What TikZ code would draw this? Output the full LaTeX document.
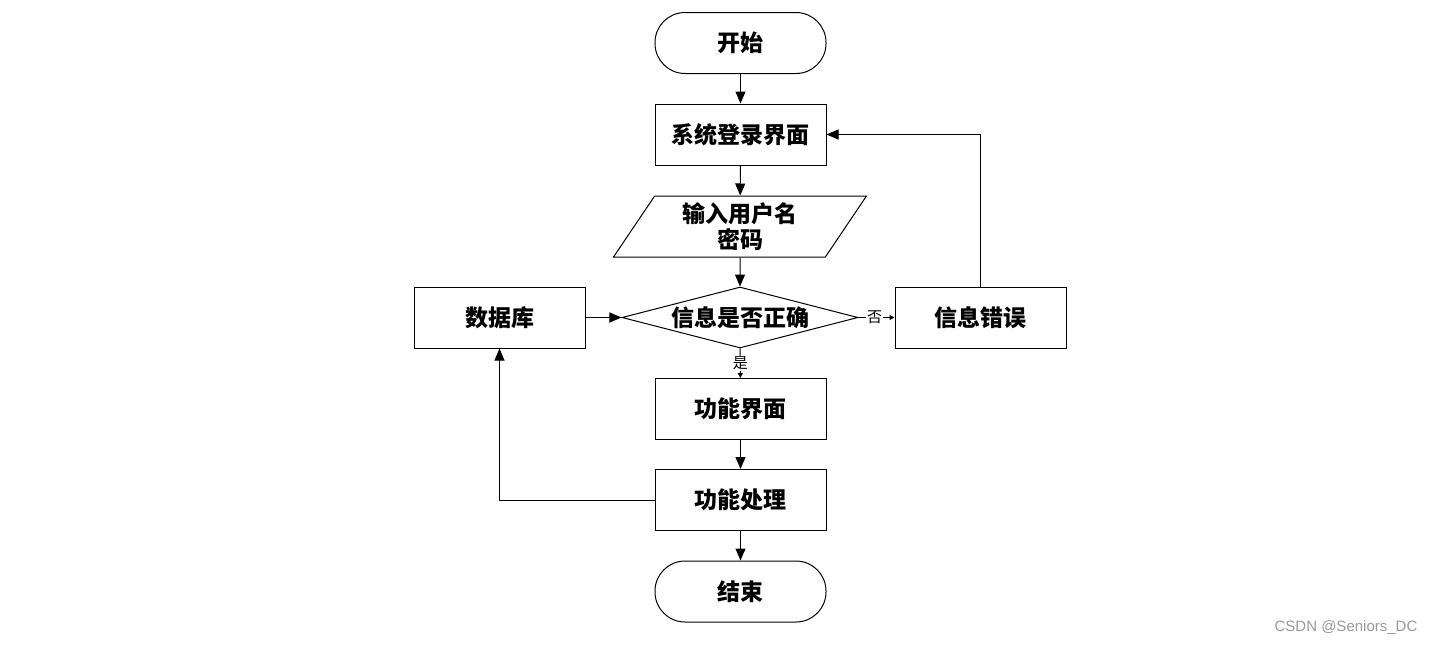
\documentclass[tikz,border=0pt]{standalone}
\usepackage{fontspec}
\newfontfamily\cjk{Noto Sans CJK SC}
\newfontfamily\wmfont{Liberation Sans}
\usepackage{tikz}
\usetikzlibrary{arrows.meta,shapes.geometric}

\begin{document}
\begin{tikzpicture}[x=0.5pt, y=-0.5pt, line width=0.5pt,
    every node/.style={font=\cjk\bfseries\fontsize{11.5pt}{13pt}\selectfont},
    box/.style={draw, minimum width=85.5pt, minimum height=30.5pt, inner sep=0pt},
    term/.style={box, rounded corners=15pt},
    io/.style={draw, trapezium, trapezium left angle=60, trapezium right angle=120,
        trapezium stretches=true, minimum width=127pt, minimum height=30.5pt,
        inner sep=0pt, align=center},
    decide/.style={draw, diamond, shape aspect=3.9, minimum width=118pt,
        minimum height=30.5pt, inner sep=0pt},
    tag/.style={font=\cjk\fontsize{7.5pt}{8pt}\selectfont, fill=white, inner sep=0.5pt},
    arr/.style={-{Triangle[length=6pt, width=5pt]}},
    tiny/.style={-{Triangle[length=2.5pt, width=2.5pt]}}]
    \useasboundingbox (0,0) rectangle (1432,645);

    % Main column
    \node[term] (start) at (740.5,43) {开始};
    \node[box] (login) at (740.5,134.5) {系统登录界面};
    \node[io] (input) at (740,226.5) {输入用户名\\密码};
    \node[decide] (check) at (740,317.5) {信息是否正确};
    \node[box] (menu) at (740.5,409) {功能界面};
    \node[box] (proc) at (740.5,500) {功能处理};
    \node[term] (stop) at (740.5,591.5) {结束};

    % Side boxes
    \node[box] (db) at (499.5,317.5) {数据库};
    \node[box] (err) at (980.5,317.5) {信息错误};

    % Arrows
    \draw[arr] (start) -- (login);
    \draw[arr] (login) -- (input);
    \draw[arr] (input) -- (check);
    \draw[tiny] (check) -- node[tag] {是} (menu);
    \draw[arr] (menu) -- (proc);
    \draw[arr] (proc) -- (stop);
    \draw[arr] (db) -- (check);
    \draw[tiny] (check) -- node[tag, pos=0.45] {否} (err);
    \draw[arr] (err.north) |- (login.east);
    \draw[arr] (proc.west) -| (db.south);

    % Watermark
    \node[font=\wmfont\fontsize{7.5pt}{9pt}\selectfont, text=black!40] (mark) at (1346,628) {CSDN @Seniors\_DC};
\end{tikzpicture}
\end{document}
